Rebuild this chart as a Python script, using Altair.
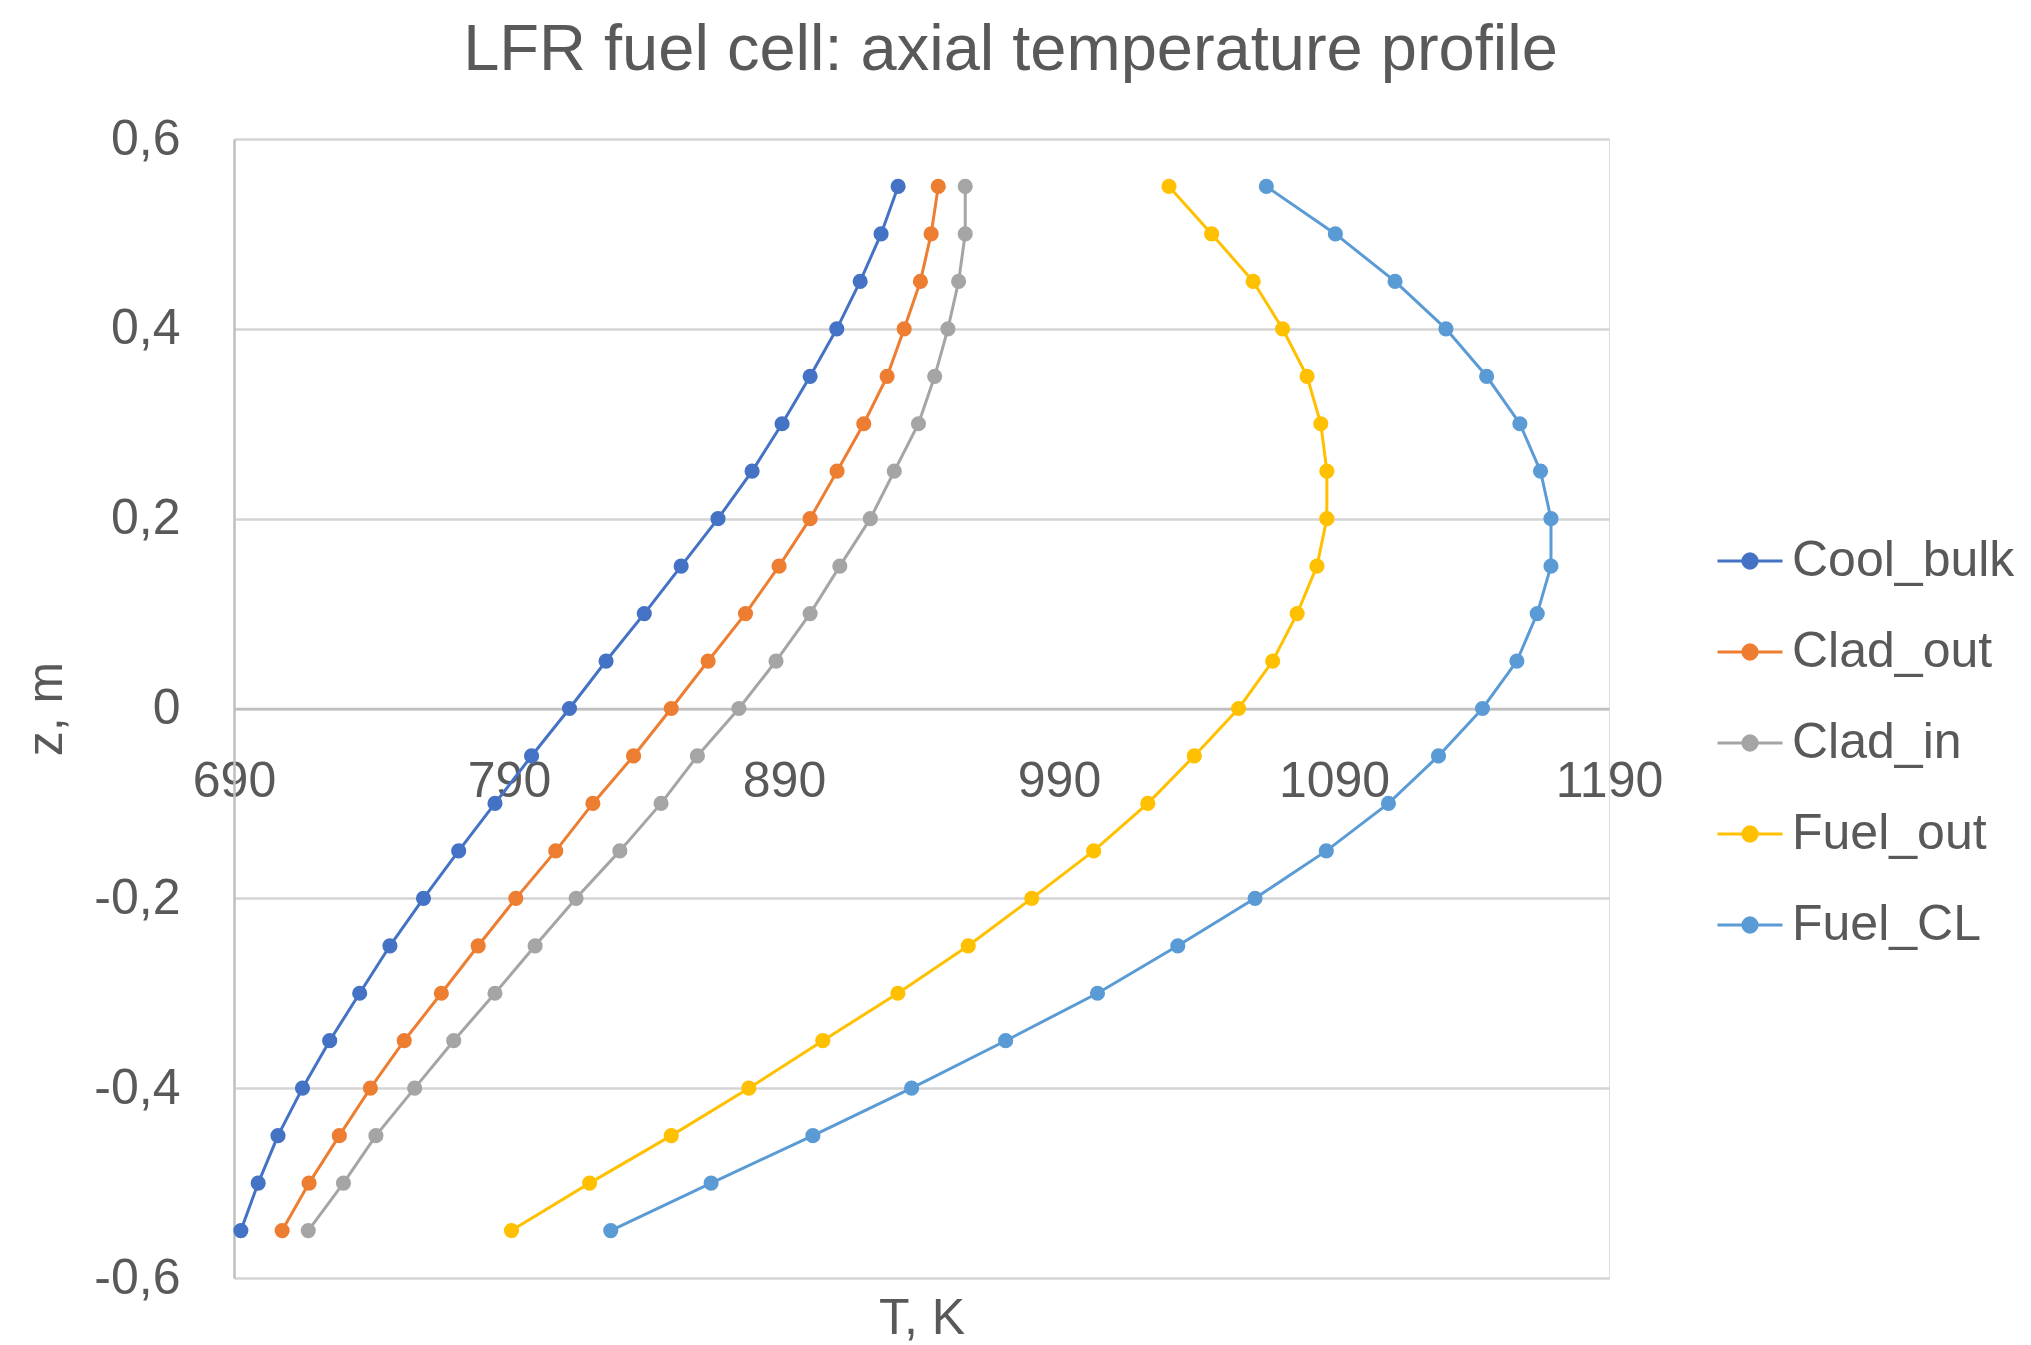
import altair as alt
import pandas as pd

z = [0.55, 0.5, 0.45, 0.4, 0.35, 0.3, 0.25, 0.2, 0.15, 0.1, 0.05, 0.0,
     -0.05, -0.1, -0.15, -0.2, -0.25, -0.3, -0.35, -0.4, -0.45, -0.5, -0.55]

cool_bulk = [931.5, 925.3, 917.7, 909.2, 899.5, 889.3, 878.4, 866.0, 852.6, 839.2, 825.3, 812.0,
             798.2, 784.9, 771.7, 758.9, 746.7, 735.7, 724.8, 714.9, 706.0, 698.8, 692.5]
clad_out = [946.1, 943.5, 939.6, 933.7, 927.5, 919.0, 909.3, 899.5, 888.2, 876.0, 862.4, 849.0,
            835.3, 820.5, 807.0, 792.5, 778.8, 765.4, 751.9, 739.6, 728.3, 717.3, 707.5]
clad_in = [955.9, 955.9, 953.5, 949.6, 944.8, 938.9, 930.1, 921.4, 910.3, 899.5, 887.1, 873.6,
           858.5, 845.3, 830.3, 814.4, 799.5, 784.9, 769.9, 755.7, 741.6, 729.8, 717.0]
fuel_out = [1030.0, 1045.5, 1060.6, 1071.3, 1080.2, 1085.2, 1087.4, 1087.4, 1083.8, 1076.6, 1067.7, 1055.3,
            1039.2, 1022.3, 1002.6, 980.1, 957.0, 931.4, 904.1, 877.2, 849.0, 819.3, 790.9]
fuel_cl = [1065.4, 1090.5, 1112.2, 1130.7, 1145.5, 1157.6, 1165.1, 1168.9, 1168.9, 1163.9, 1156.5, 1144.0,
           1128.0, 1109.8, 1087.2, 1061.3, 1033.2, 1004.0, 970.6, 936.4, 900.5, 863.5, 827.0]

series_names = ["Cool_bulk", "Clad_out", "Clad_in", "Fuel_out", "Fuel_CL"]
series_colors = ["#4472C4", "#ED7D31", "#A5A5A5", "#FFC000", "#5B9BD5"]
x_ticks = [690, 790, 890, 990, 1090, 1190]
y_ticks = [-0.6, -0.4, -0.2, 0.0, 0.2, 0.4, 0.6]

rows = []
for name, vals in zip(series_names, [cool_bulk, clad_out, clad_in, fuel_out, fuel_cl]):
    for i, (zz, t) in enumerate(zip(z, vals)):
        rows.append({"series": name, "z": zz, "T": t, "idx": i})
df = pd.DataFrame(rows)

FONT = "Liberation Sans"
TXT = "#595959"
W, H = 1375, 1139

x_enc = alt.X(
    "T:Q",
    scale=alt.Scale(domain=[690, 1190], nice=False, zero=False),
    axis=alt.Axis(
        values=x_ticks, grid=False, ticks=False, tickSize=0,
        domain=True, domainColor="#bfbfbf", domainWidth=2.5,
        offset=-H / 2, labelPadding=73, labelBaseline="middle",
        labelFlush=False, labelOverlap=False, labelExpr="toString(datum.value)",
        labelFontSize=50, labelColor=TXT, labelFont=FONT,
        title="T, K", titleFontSize=50, titleFontWeight="normal", titleColor=TXT, titleFont=FONT,
        titleY=610, titleBaseline="middle",
    ),
)
y_enc = alt.Y(
    "z:Q",
    scale=alt.Scale(domain=[-0.6, 0.6], nice=False, zero=False),
    axis=alt.Axis(
        values=y_ticks, grid=True, gridColor="#d4d4d4", gridWidth=2.5,
        ticks=False, tickSize=0, domain=True, domainColor="#bfbfbf", domainWidth=2.5,
        labelPadding=54, labelFontSize=50, labelColor=TXT, labelFont=FONT,
        labelExpr="replace(toString(datum.value), '.', ',')",
        title="z, m", titleFontSize=50, titleFontWeight="normal", titleColor=TXT, titleFont=FONT,
        titleX=-188, titleY=H / 2, titleAngle=270, titleBaseline="middle", titleAlign="center",
    ),
)

sym_path = ("M-1,0L1,0M-0.22,0A0.22,0.22,0,1,0,0.22,0A0.22,0.22,0,1,0,-0.22,0Z")
leg = alt.Legend(
    title=None, orient="none", legendX=1482, legendY=388, padding=0,
    symbolType=sym_path, symbolSize=4225, symbolStrokeWidth=3,
    labelFontSize=50, labelFont=FONT, labelColor=TXT, labelOffset=8, labelLimit=500,
    rowPadding=32, symbolOpacity=1,
)
cscale = alt.Scale(domain=series_names, range=series_colors)

lines = alt.Chart(df).mark_line(strokeWidth=3).encode(
    x=x_enc, y=y_enc,
    stroke=alt.Stroke("series:N", scale=cscale, legend=leg, sort=series_names),
    order=alt.Order("idx:Q"),
    detail="series:N",
)
points = alt.Chart(df).mark_circle(size=230, opacity=1).encode(
    x=x_enc, y=y_enc,
    fill=alt.Fill("series:N", scale=cscale, legend=leg, sort=series_names),
)

chart = alt.layer(lines, points).properties(
    width=W, height=H,
    autosize=alt.AutoSizeParams(type="none"),
    padding={"left": 234, "top": 139, "right": 422, "bottom": 67},
    title=alt.TitleParams(
        "LFR fuel cell: axial temperature profile",
        font=FONT, fontSize=65, fontWeight="normal", color=TXT,
        anchor="middle", frame="group", dx=89, offset=30,
    ),
).configure_view(stroke=None).configure(background="white")

chart.save("out.html", embed_options={"renderer": "svg", "actions": False})
